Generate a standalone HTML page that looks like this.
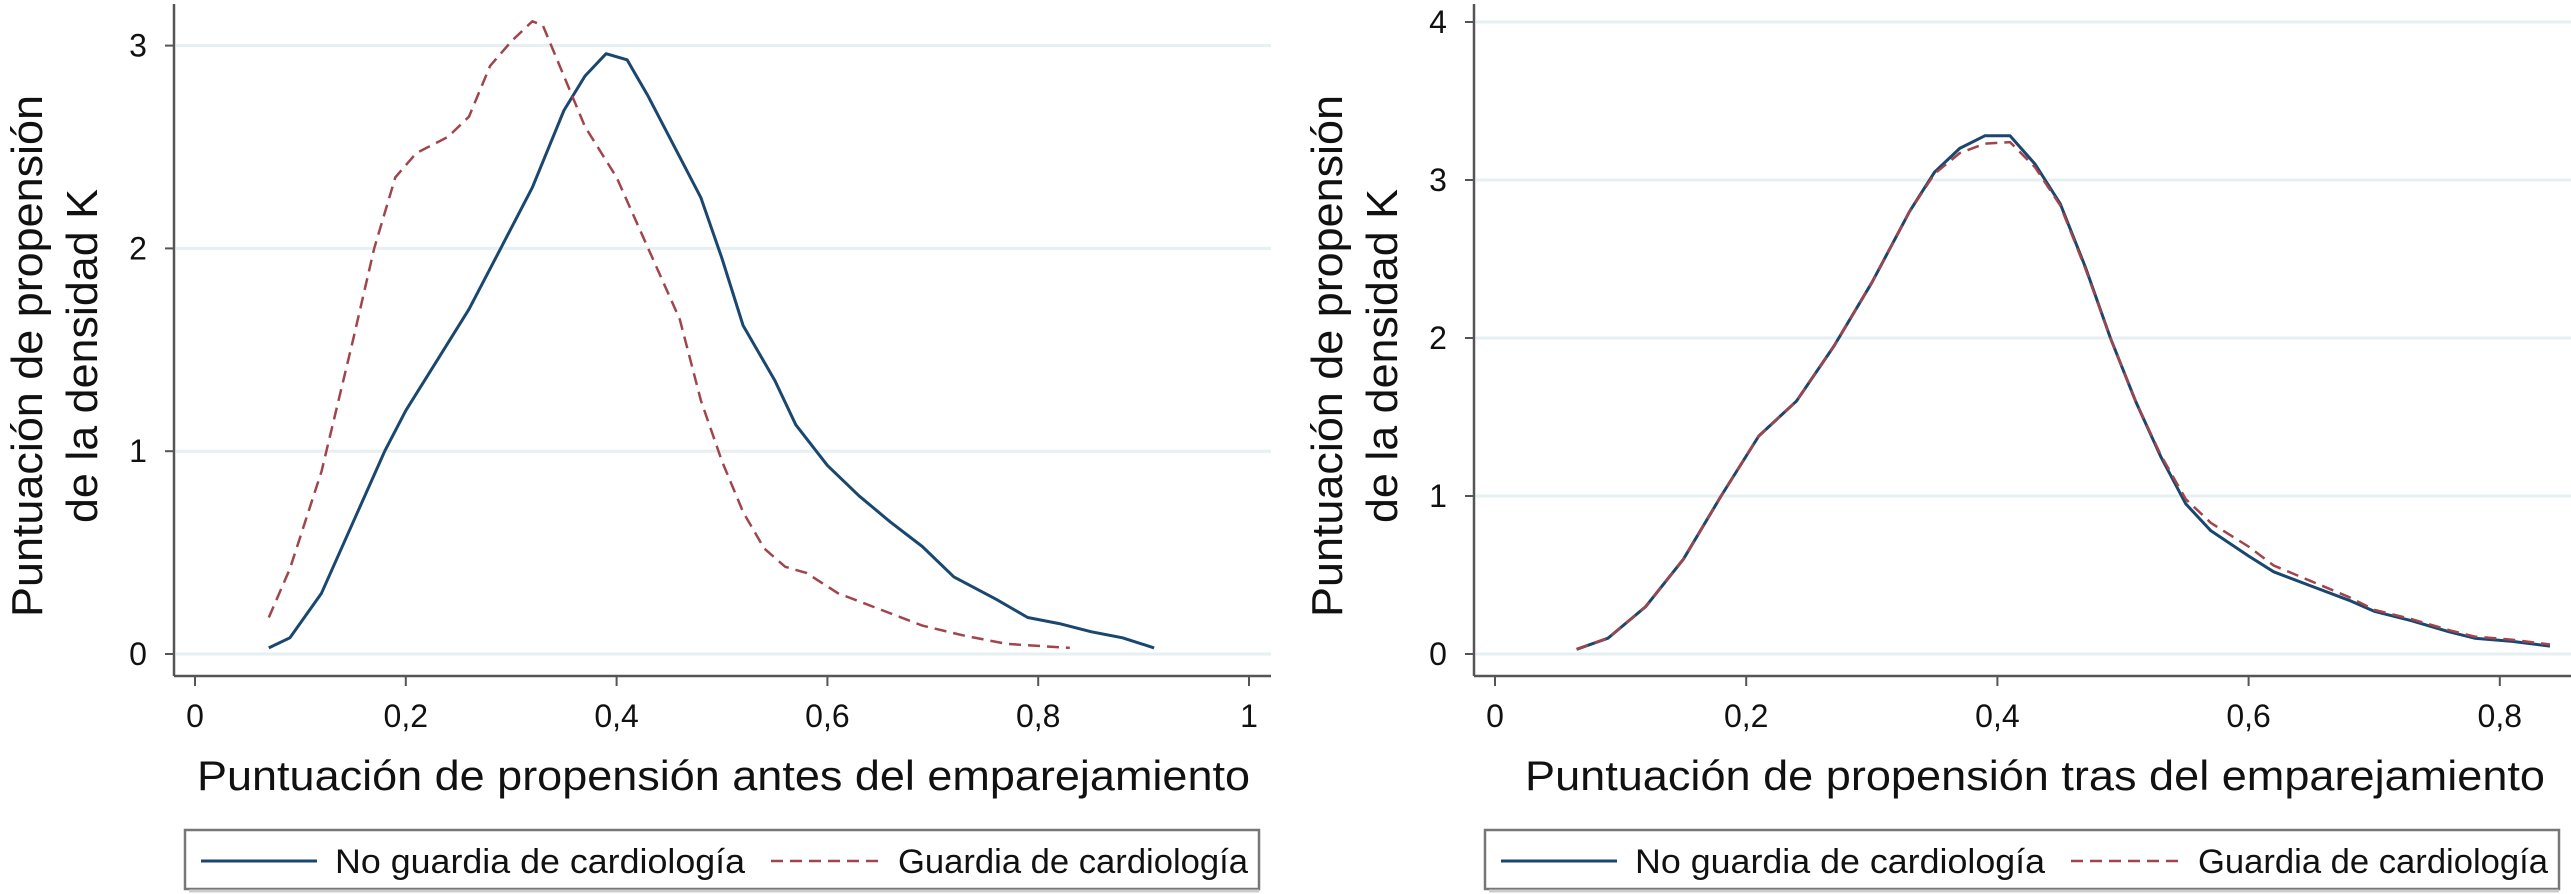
<!DOCTYPE html>
<html><head><meta charset="utf-8"><style>
html,body{margin:0;padding:0;background:#fff;}
svg{display:block;font-family:"Liberation Sans",Arial,sans-serif;}
</style></head><body>
<svg id="chart" width="2571" height="894" viewBox="0 0 2571 894" xmlns="http://www.w3.org/2000/svg"></svg>
<script>
const leftX = [0.07,0.09,0.12,0.15,0.18,0.2,0.23,0.26,0.29,0.32,0.35,0.37,0.39,0.41,0.43,0.46,0.48,0.5,0.52,0.55,0.57,0.6,0.63,0.66,0.69,0.72,0.76,0.79,0.82,0.85,0.88,0.91];
const leftNo = [0.03,0.08,0.3,0.65,1.0,1.2,1.45,1.7,2.0,2.3,2.68,2.85,2.96,2.93,2.75,2.45,2.25,1.95,1.62,1.35,1.13,0.93,0.78,0.65,0.53,0.38,0.27,0.18,0.15,0.11,0.08,0.03];
const leftRedX = [0.07,0.09,0.12,0.15,0.17,0.19,0.21,0.24,0.26,0.28,0.30,0.32,0.33,0.35,0.37,0.40,0.43,0.46,0.48,0.50,0.52,0.54,0.56,0.58,0.61,0.65,0.69,0.73,0.77,0.80,0.83];
const leftG = [0.18,0.42,0.9,1.55,2.0,2.35,2.47,2.55,2.65,2.9,3.02,3.12,3.1,2.85,2.6,2.35,2.0,1.65,1.25,0.95,0.7,0.52,0.43,0.4,0.3,0.22,0.14,0.09,0.05,0.04,0.03];
const rightX = [0.065,0.09,0.12,0.15,0.18,0.21,0.24,0.27,0.30,0.33,0.35,0.37,0.39,0.41,0.43,0.45,0.47,0.49,0.51,0.53,0.55,0.57,0.60,0.62,0.65,0.68,0.70,0.73,0.76,0.78,0.81,0.84];
const rightNo = [0.03,0.1,0.3,0.6,1.0,1.38,1.6,1.95,2.35,2.8,3.05,3.2,3.28,3.28,3.1,2.85,2.45,2.0,1.6,1.25,0.95,0.78,0.62,0.52,0.43,0.34,0.27,0.21,0.14,0.1,0.08,0.05];
const rightG = [0.03,0.1,0.3,0.6,1.0,1.38,1.6,1.95,2.35,2.8,3.04,3.17,3.23,3.24,3.08,2.84,2.44,2.0,1.6,1.26,0.98,0.83,0.68,0.56,0.46,0.36,0.28,0.22,0.15,0.11,0.09,0.06];
const leftXTicks = [0,0.2,0.4,0.6,0.8,1];
const leftXLabels = ["0","0,2","0,4","0,6","0,8","1"];
const leftYTicks = [0,1,2,3];
const rightXTicks = [0,0.2,0.4,0.6,0.8];
const rightXLabels = ["0","0,2","0,4","0,6","0,8"];
const rightYTicks = [0,1,2,3,4];

const NS="http://www.w3.org/2000/svg";
const svg=document.getElementById('chart');
function mk(tag,attrs,parent,text){const e=document.createElementNS(NS,tag);for(const k in attrs)e.setAttribute(k,attrs[k]);if(text!==undefined)e.textContent=text;(parent||svg).appendChild(e);return e;}

function panel(cfg){
  const g=mk('g',{});
  
  
  const sx=v=>cfg.x0+v*cfg.xs, sy=v=>654-v*cfg.ys;
  cfg.yt.forEach(t=>{const l=mk('line',{x1:cfg.axX+2,x2:cfg.right,y1:sy(t),y2:sy(t),stroke:'#e6eff1','stroke-width':3},g);
    });
  const ya=mk('line',{x1:cfg.axX,x2:cfg.axX,y1:4,y2:676,stroke:'#555','stroke-width':2.5},g);
  
  const xa=mk('line',{x1:cfg.axX,x2:cfg.right,y1:676,y2:676,stroke:'#555','stroke-width':2.5},g);
  
  cfg.yt.forEach(t=>{mk('line',{x1:cfg.axX-9,x2:cfg.axX,y1:sy(t),y2:sy(t),stroke:'#555','stroke-width':2},g);
    const tx=mk('text',{x:cfg.axX-36,y:sy(t)+11,'text-anchor':'middle','font-size':32,fill:'#111'},g,String(t));
    });
  cfg.xt.forEach((t,i)=>{mk('line',{x1:sx(t),x2:sx(t),y1:676,y2:686,stroke:'#555','stroke-width':2},g);
    const tx=mk('text',{x:sx(t),y:727,'text-anchor':'middle','font-size':32,fill:'#111'},g,cfg.xl[i]);
    });
  const path=(xs,ys)=>xs.map((x,i)=>(i?'L':'M')+sx(x).toFixed(1)+','+sy(ys[i]).toFixed(1)).join(' ');
  const pb=mk('path',{d:path(cfg.bx,cfg.by),fill:'none',stroke:'#1a476f','stroke-width':3,'stroke-linejoin':'round'},g);
  
  const pr=mk('path',{d:path(cfg.rx,cfg.ry),fill:'none',stroke:'#a0454b','stroke-width':2.5,'stroke-dasharray':'12,7'},g);
  
  const yt=mk('text',{transform:`translate(${cfg.ytx},356) rotate(-90)`,'text-anchor':'middle','font-size':44,fill:'#111'},g);
  
  mk('tspan',{x:0,y:0,textLength:522,lengthAdjust:'spacingAndGlyphs'},yt,'Puntuación de propensión');
  mk('tspan',{x:0,y:55,textLength:334,lengthAdjust:'spacingAndGlyphs'},yt,'de la densidad K');
  const xt=mk('text',{x:cfg.tx0,y:790,'font-size':42,fill:'#111',textLength:cfg.tlen,lengthAdjust:'spacingAndGlyphs'},g,cfg.title);
  
  const L=cfg.leg;
  const lb=mk('rect',{x:L,y:830,width:1074,height:59,fill:'#fff',stroke:'#777','stroke-width':2.5},g);
  
  mk('line',{x1:L+4,x2:L+1074,y1:891,y2:891,stroke:'#ccc','stroke-width':3},g);
  mk('line',{x1:L+16,x2:L+132,y1:861,y2:861,stroke:'#1a476f','stroke-width':3},g);
  const t1=mk('text',{x:L+150,y:873,'font-size':34,fill:'#111',textLength:410,lengthAdjust:'spacingAndGlyphs'},g,'No guardia de cardiología');
  
  mk('line',{x1:L+586,x2:L+700,y1:861,y2:861,stroke:'#a0454b','stroke-width':2.5,'stroke-dasharray':'12,7'},g);
  const t2=mk('text',{x:L+713,y:873,'font-size':34,fill:'#111',textLength:350,lengthAdjust:'spacingAndGlyphs'},g,'Guardia de cardiología');
  
}
panel({name:'left-panel',x0:195,xs:1054,ys:202.8,axX:174,right:1271,yt:leftYTicks,xt:leftXTicks,xl:leftXLabels,
  bx:leftX,by:leftNo,rx:leftRedX,ry:leftG,ytx:42,tx0:197,tlen:1053,title:'Puntuación de propensión antes del emparejamiento',leg:185});
panel({name:'right-panel',x0:1495,xs:1256,ys:158,axX:1474,right:2571,yt:rightYTicks,xt:rightXTicks,xl:rightXLabels,
  bx:rightX,by:rightNo,rx:rightX,ry:rightG,ytx:1342,tx0:1525,tlen:1020,title:'Puntuación de propensión tras del emparejamiento',leg:1485});
</script>
</body></html>
